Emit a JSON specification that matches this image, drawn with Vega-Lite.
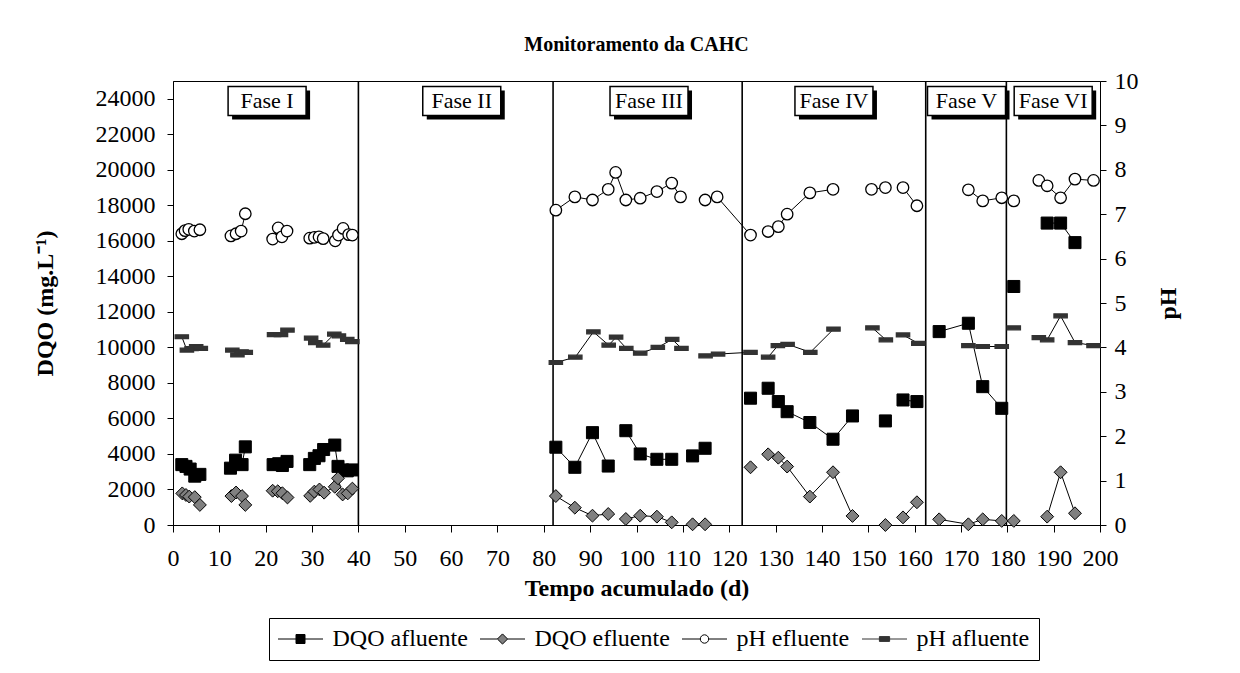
{
  "$schema": "https://vega.github.io/schema/vega-lite/v6.json",
  "width": 927,
  "height": 444,
  "autosize": {"type": "none"},
  "padding": {"left": 173, "top": 81, "right": 140, "bottom": 148},
  "background": "#ffffff",
  "title": {"text": "Monitoramento da CAHC", "font": "Liberation Serif", "fontSize": 20, "fontWeight": "bold", "color": "#000000", "anchor": "middle", "offset": 14},
  "config": {
    "view": {"stroke": "#000000", "strokeWidth": 1},
    "font": "Liberation Serif",
    "axis": {"labelFont": "Liberation Serif", "titleFont": "Liberation Serif", "labelColor": "#000000", "titleColor": "#000000", "domainColor": "#000000", "tickColor": "#000000", "grid": false, "labelFontSize": 24, "titleFontSize": 24, "titleFontWeight": "bold", "labelOverlap": false, "labelFlush": false, "domainWidth": 1, "tickWidth": 1},
    "legend": {"labelFont": "Liberation Serif", "labelFontSize": 24, "labelColor": "#000000"}
  },
  "datasets": {
    "limites": [{"dia": 40}, {"dia": 82}, {"dia": 122.8}, {"dia": 162.4}, {"dia": 179.8}],
    "fases": [
      {"dia": 20.3, "fase": "Fase I"}, {"dia": 62.3, "fase": "Fase II"}, {"dia": 102.7, "fase": "Fase III"},
      {"dia": 142.6, "fase": "Fase IV"}, {"dia": 171.2, "fase": "Fase V"}, {"dia": 189.9, "fase": "Fase VI"}
    ],
    "series": [{"serie": "DQO afluente"}, {"serie": "DQO efluente"}, {"serie": "pH efluente"}, {"serie": "pH afluente"}],
    "medidas": [
      {"dia": 1.9, "serie": "DQO afluente", "valor": 3400, "trecho": 1},
      {"dia": 2.8, "serie": "DQO afluente", "valor": 3300, "trecho": 1},
      {"dia": 3.7, "serie": "DQO afluente", "valor": 3150, "trecho": 1},
      {"dia": 4.7, "serie": "DQO afluente", "valor": 2750, "trecho": 1},
      {"dia": 5.8, "serie": "DQO afluente", "valor": 2850, "trecho": 1},
      {"dia": 12.4, "serie": "DQO afluente", "valor": 3200, "trecho": 2},
      {"dia": 13.5, "serie": "DQO afluente", "valor": 3650, "trecho": 2},
      {"dia": 14.9, "serie": "DQO afluente", "valor": 3400, "trecho": 2},
      {"dia": 15.6, "serie": "DQO afluente", "valor": 4400, "trecho": 2},
      {"dia": 21.6, "serie": "DQO afluente", "valor": 3400, "trecho": 3},
      {"dia": 22.8, "serie": "DQO afluente", "valor": 3450, "trecho": 3},
      {"dia": 23.6, "serie": "DQO afluente", "valor": 3350, "trecho": 3},
      {"dia": 24.6, "serie": "DQO afluente", "valor": 3580, "trecho": 3},
      {"dia": 29.5, "serie": "DQO afluente", "valor": 3400, "trecho": 4},
      {"dia": 30.5, "serie": "DQO afluente", "valor": 3750, "trecho": 4},
      {"dia": 31.5, "serie": "DQO afluente", "valor": 3900, "trecho": 4},
      {"dia": 32.5, "serie": "DQO afluente", "valor": 4250, "trecho": 4},
      {"dia": 34.9, "serie": "DQO afluente", "valor": 4500, "trecho": 4},
      {"dia": 35.6, "serie": "DQO afluente", "valor": 3300, "trecho": 4},
      {"dia": 36.6, "serie": "DQO afluente", "valor": 3100, "trecho": 4},
      {"dia": 37.6, "serie": "DQO afluente", "valor": 3050, "trecho": 4},
      {"dia": 38.7, "serie": "DQO afluente", "valor": 3100, "trecho": 4},
      {"dia": 82.6, "serie": "DQO afluente", "valor": 4380, "trecho": 5},
      {"dia": 86.7, "serie": "DQO afluente", "valor": 3250, "trecho": 5},
      {"dia": 90.5, "serie": "DQO afluente", "valor": 5200, "trecho": 5},
      {"dia": 93.9, "serie": "DQO afluente", "valor": 3320, "trecho": 5},
      {"dia": 97.7, "serie": "DQO afluente", "valor": 5310, "trecho": 6},
      {"dia": 100.8, "serie": "DQO afluente", "valor": 4000, "trecho": 6},
      {"dia": 104.4, "serie": "DQO afluente", "valor": 3700, "trecho": 6},
      {"dia": 107.6, "serie": "DQO afluente", "valor": 3700, "trecho": 6},
      {"dia": 112.1, "serie": "DQO afluente", "valor": 3890, "trecho": 7},
      {"dia": 114.8, "serie": "DQO afluente", "valor": 4320, "trecho": 7},
      {"dia": 124.6, "serie": "DQO afluente", "valor": 7140, "trecho": 8},
      {"dia": 128.4, "serie": "DQO afluente", "valor": 7700, "trecho": 9},
      {"dia": 130.6, "serie": "DQO afluente", "valor": 6950, "trecho": 9},
      {"dia": 132.5, "serie": "DQO afluente", "valor": 6380, "trecho": 9},
      {"dia": 137.4, "serie": "DQO afluente", "valor": 5770, "trecho": 9},
      {"dia": 142.4, "serie": "DQO afluente", "valor": 4830, "trecho": 9},
      {"dia": 146.6, "serie": "DQO afluente", "valor": 6140, "trecho": 9},
      {"dia": 153.7, "serie": "DQO afluente", "valor": 5860, "trecho": 10},
      {"dia": 157.5, "serie": "DQO afluente", "valor": 7040, "trecho": 11},
      {"dia": 160.5, "serie": "DQO afluente", "valor": 6950, "trecho": 11},
      {"dia": 165.3, "serie": "DQO afluente", "valor": 10890, "trecho": 12},
      {"dia": 171.6, "serie": "DQO afluente", "valor": 11360, "trecho": 12},
      {"dia": 174.7, "serie": "DQO afluente", "valor": 7790, "trecho": 12},
      {"dia": 178.8, "serie": "DQO afluente", "valor": 6570, "trecho": 12},
      {"dia": 181.4, "serie": "DQO afluente", "valor": 13430, "trecho": 13},
      {"dia": 188.6, "serie": "DQO afluente", "valor": 17000, "trecho": 14},
      {"dia": 191.5, "serie": "DQO afluente", "valor": 17000, "trecho": 14},
      {"dia": 194.6, "serie": "DQO afluente", "valor": 15900, "trecho": 14},

      {"dia": 2.0, "serie": "DQO efluente", "valor": 1780, "trecho": 1},
      {"dia": 2.8, "serie": "DQO efluente", "valor": 1690, "trecho": 1},
      {"dia": 3.5, "serie": "DQO efluente", "valor": 1600, "trecho": 1},
      {"dia": 4.7, "serie": "DQO efluente", "valor": 1570, "trecho": 1},
      {"dia": 5.8, "serie": "DQO efluente", "valor": 1130, "trecho": 1},
      {"dia": 12.6, "serie": "DQO efluente", "valor": 1630, "trecho": 2},
      {"dia": 13.6, "serie": "DQO efluente", "valor": 1830, "trecho": 2},
      {"dia": 14.9, "serie": "DQO efluente", "valor": 1630, "trecho": 2},
      {"dia": 15.6, "serie": "DQO efluente", "valor": 1130, "trecho": 2},
      {"dia": 21.5, "serie": "DQO efluente", "valor": 1930, "trecho": 3},
      {"dia": 22.6, "serie": "DQO efluente", "valor": 1900, "trecho": 3},
      {"dia": 23.6, "serie": "DQO efluente", "valor": 1790, "trecho": 3},
      {"dia": 24.7, "serie": "DQO efluente", "valor": 1550, "trecho": 3},
      {"dia": 29.6, "serie": "DQO efluente", "valor": 1640, "trecho": 4},
      {"dia": 30.5, "serie": "DQO efluente", "valor": 1880, "trecho": 4},
      {"dia": 31.6, "serie": "DQO efluente", "valor": 2000, "trecho": 4},
      {"dia": 32.6, "serie": "DQO efluente", "valor": 1820, "trecho": 4},
      {"dia": 34.9, "serie": "DQO efluente", "valor": 2150, "trecho": 4},
      {"dia": 35.6, "serie": "DQO efluente", "valor": 2630, "trecho": 4},
      {"dia": 36.6, "serie": "DQO efluente", "valor": 1720, "trecho": 4},
      {"dia": 37.7, "serie": "DQO efluente", "valor": 1780, "trecho": 4},
      {"dia": 38.7, "serie": "DQO efluente", "valor": 2050, "trecho": 4},
      {"dia": 82.6, "serie": "DQO efluente", "valor": 1630, "trecho": 5},
      {"dia": 86.7, "serie": "DQO efluente", "valor": 975, "trecho": 5},
      {"dia": 90.5, "serie": "DQO efluente", "valor": 525, "trecho": 5},
      {"dia": 93.9, "serie": "DQO efluente", "valor": 620, "trecho": 5},
      {"dia": 97.7, "serie": "DQO efluente", "valor": 340, "trecho": 6},
      {"dia": 100.8, "serie": "DQO efluente", "valor": 525, "trecho": 6},
      {"dia": 104.4, "serie": "DQO efluente", "valor": 470, "trecho": 6},
      {"dia": 107.6, "serie": "DQO efluente", "valor": 150, "trecho": 6},
      {"dia": 112.1, "serie": "DQO efluente", "valor": 40, "trecho": 7},
      {"dia": 114.8, "serie": "DQO efluente", "valor": 40, "trecho": 7},
      {"dia": 124.6, "serie": "DQO efluente", "valor": 3250, "trecho": 8},
      {"dia": 128.4, "serie": "DQO efluente", "valor": 3980, "trecho": 9},
      {"dia": 130.6, "serie": "DQO efluente", "valor": 3790, "trecho": 9},
      {"dia": 132.5, "serie": "DQO efluente", "valor": 3290, "trecho": 9},
      {"dia": 137.4, "serie": "DQO efluente", "valor": 1600, "trecho": 9},
      {"dia": 142.4, "serie": "DQO efluente", "valor": 2970, "trecho": 9},
      {"dia": 146.6, "serie": "DQO efluente", "valor": 510, "trecho": 9},
      {"dia": 153.7, "serie": "DQO efluente", "valor": 0, "trecho": 10},
      {"dia": 157.5, "serie": "DQO efluente", "valor": 430, "trecho": 11},
      {"dia": 160.5, "serie": "DQO efluente", "valor": 1280, "trecho": 11},
      {"dia": 165.3, "serie": "DQO efluente", "valor": 320, "trecho": 12},
      {"dia": 171.6, "serie": "DQO efluente", "valor": 40, "trecho": 12},
      {"dia": 174.7, "serie": "DQO efluente", "valor": 320, "trecho": 12},
      {"dia": 178.8, "serie": "DQO efluente", "valor": 230, "trecho": 12},
      {"dia": 181.4, "serie": "DQO efluente", "valor": 230, "trecho": 12},
      {"dia": 188.6, "serie": "DQO efluente", "valor": 470, "trecho": 13},
      {"dia": 191.5, "serie": "DQO efluente", "valor": 2970, "trecho": 13},
      {"dia": 194.6, "serie": "DQO efluente", "valor": 660, "trecho": 13},

      {"dia": 1.9, "serie": "pH efluente", "valor": 6.56, "trecho": 1},
      {"dia": 2.6, "serie": "pH efluente", "valor": 6.63, "trecho": 1},
      {"dia": 3.4, "serie": "pH efluente", "valor": 6.66, "trecho": 1},
      {"dia": 4.6, "serie": "pH efluente", "valor": 6.62, "trecho": 1},
      {"dia": 5.8, "serie": "pH efluente", "valor": 6.65, "trecho": 1},
      {"dia": 12.5, "serie": "pH efluente", "valor": 6.51, "trecho": 2},
      {"dia": 13.6, "serie": "pH efluente", "valor": 6.56, "trecho": 2},
      {"dia": 14.7, "serie": "pH efluente", "valor": 6.62, "trecho": 2},
      {"dia": 15.6, "serie": "pH efluente", "valor": 7.01, "trecho": 2},
      {"dia": 21.5, "serie": "pH efluente", "valor": 6.44, "trecho": 3},
      {"dia": 22.7, "serie": "pH efluente", "valor": 6.69, "trecho": 3},
      {"dia": 23.5, "serie": "pH efluente", "valor": 6.49, "trecho": 3},
      {"dia": 24.6, "serie": "pH efluente", "valor": 6.62, "trecho": 3},
      {"dia": 29.5, "serie": "pH efluente", "valor": 6.46, "trecho": 4},
      {"dia": 30.5, "serie": "pH efluente", "valor": 6.48, "trecho": 4},
      {"dia": 31.5, "serie": "pH efluente", "valor": 6.49, "trecho": 4},
      {"dia": 32.4, "serie": "pH efluente", "valor": 6.45, "trecho": 4},
      {"dia": 35.0, "serie": "pH efluente", "valor": 6.40, "trecho": 4},
      {"dia": 35.7, "serie": "pH efluente", "valor": 6.53, "trecho": 4},
      {"dia": 36.7, "serie": "pH efluente", "valor": 6.68, "trecho": 4},
      {"dia": 37.9, "serie": "pH efluente", "valor": 6.54, "trecho": 4},
      {"dia": 38.7, "serie": "pH efluente", "valor": 6.53, "trecho": 4},
      {"dia": 82.6, "serie": "pH efluente", "valor": 7.09, "trecho": 5},
      {"dia": 86.7, "serie": "pH efluente", "valor": 7.39, "trecho": 5},
      {"dia": 90.5, "serie": "pH efluente", "valor": 7.32, "trecho": 5},
      {"dia": 93.9, "serie": "pH efluente", "valor": 7.56, "trecho": 5},
      {"dia": 95.5, "serie": "pH efluente", "valor": 7.94, "trecho": 5},
      {"dia": 97.7, "serie": "pH efluente", "valor": 7.32, "trecho": 5},
      {"dia": 100.8, "serie": "pH efluente", "valor": 7.36, "trecho": 5},
      {"dia": 104.4, "serie": "pH efluente", "valor": 7.51, "trecho": 5},
      {"dia": 107.6, "serie": "pH efluente", "valor": 7.70, "trecho": 5},
      {"dia": 109.5, "serie": "pH efluente", "valor": 7.39, "trecho": 5},
      {"dia": 114.8, "serie": "pH efluente", "valor": 7.32, "trecho": 6},
      {"dia": 117.4, "serie": "pH efluente", "valor": 7.39, "trecho": 6},
      {"dia": 124.6, "serie": "pH efluente", "valor": 6.53, "trecho": 6},
      {"dia": 128.4, "serie": "pH efluente", "valor": 6.61, "trecho": 7},
      {"dia": 130.6, "serie": "pH efluente", "valor": 6.72, "trecho": 7},
      {"dia": 132.5, "serie": "pH efluente", "valor": 7.00, "trecho": 7},
      {"dia": 137.4, "serie": "pH efluente", "valor": 7.48, "trecho": 7},
      {"dia": 142.4, "serie": "pH efluente", "valor": 7.56, "trecho": 7},
      {"dia": 150.7, "serie": "pH efluente", "valor": 7.56, "trecho": 8},
      {"dia": 153.7, "serie": "pH efluente", "valor": 7.60, "trecho": 8},
      {"dia": 157.5, "serie": "pH efluente", "valor": 7.60, "trecho": 9},
      {"dia": 160.5, "serie": "pH efluente", "valor": 7.19, "trecho": 9},
      {"dia": 171.6, "serie": "pH efluente", "valor": 7.55, "trecho": 10},
      {"dia": 174.7, "serie": "pH efluente", "valor": 7.30, "trecho": 10},
      {"dia": 178.8, "serie": "pH efluente", "valor": 7.37, "trecho": 10},
      {"dia": 181.4, "serie": "pH efluente", "valor": 7.30, "trecho": 10},
      {"dia": 186.8, "serie": "pH efluente", "valor": 7.76, "trecho": 11},
      {"dia": 188.6, "serie": "pH efluente", "valor": 7.64, "trecho": 11},
      {"dia": 191.5, "serie": "pH efluente", "valor": 7.37, "trecho": 11},
      {"dia": 194.6, "serie": "pH efluente", "valor": 7.79, "trecho": 11},
      {"dia": 198.6, "serie": "pH efluente", "valor": 7.76, "trecho": 11},

      {"dia": 1.9, "serie": "pH afluente", "valor": 4.24, "trecho": 1},
      {"dia": 3.0, "serie": "pH afluente", "valor": 3.94, "trecho": 1},
      {"dia": 4.0, "serie": "pH afluente", "valor": 3.97, "trecho": 1},
      {"dia": 5.0, "serie": "pH afluente", "valor": 4.02, "trecho": 1},
      {"dia": 6.0, "serie": "pH afluente", "valor": 3.98, "trecho": 1},
      {"dia": 12.8, "serie": "pH afluente", "valor": 3.94, "trecho": 2},
      {"dia": 13.9, "serie": "pH afluente", "valor": 3.83, "trecho": 2},
      {"dia": 14.8, "serie": "pH afluente", "valor": 3.90, "trecho": 2},
      {"dia": 15.7, "serie": "pH afluente", "valor": 3.89, "trecho": 2},
      {"dia": 21.8, "serie": "pH afluente", "valor": 4.29, "trecho": 3},
      {"dia": 23.3, "serie": "pH afluente", "valor": 4.29, "trecho": 3},
      {"dia": 24.7, "serie": "pH afluente", "valor": 4.39, "trecho": 3},
      {"dia": 29.8, "serie": "pH afluente", "valor": 4.21, "trecho": 4},
      {"dia": 30.7, "serie": "pH afluente", "valor": 4.11, "trecho": 4},
      {"dia": 32.4, "serie": "pH afluente", "valor": 4.05, "trecho": 4},
      {"dia": 34.8, "serie": "pH afluente", "valor": 4.30, "trecho": 4},
      {"dia": 35.8, "serie": "pH afluente", "valor": 4.26, "trecho": 4},
      {"dia": 37.6, "serie": "pH afluente", "valor": 4.18, "trecho": 4},
      {"dia": 38.7, "serie": "pH afluente", "valor": 4.13, "trecho": 4},
      {"dia": 82.6, "serie": "pH afluente", "valor": 3.66, "trecho": 5},
      {"dia": 86.8, "serie": "pH afluente", "valor": 3.78, "trecho": 5},
      {"dia": 90.7, "serie": "pH afluente", "valor": 4.35, "trecho": 5},
      {"dia": 94.0, "serie": "pH afluente", "valor": 4.05, "trecho": 5},
      {"dia": 95.6, "serie": "pH afluente", "valor": 4.23, "trecho": 5},
      {"dia": 97.8, "serie": "pH afluente", "valor": 3.98, "trecho": 5},
      {"dia": 100.8, "serie": "pH afluente", "valor": 3.87, "trecho": 5},
      {"dia": 104.6, "serie": "pH afluente", "valor": 4.00, "trecho": 5},
      {"dia": 107.7, "serie": "pH afluente", "valor": 4.18, "trecho": 5},
      {"dia": 109.7, "serie": "pH afluente", "valor": 3.98, "trecho": 5},
      {"dia": 114.9, "serie": "pH afluente", "valor": 3.81, "trecho": 6},
      {"dia": 117.6, "serie": "pH afluente", "valor": 3.85, "trecho": 6},
      {"dia": 124.6, "serie": "pH afluente", "valor": 3.89, "trecho": 6},
      {"dia": 128.4, "serie": "pH afluente", "valor": 3.78, "trecho": 7},
      {"dia": 130.5, "serie": "pH afluente", "valor": 4.04, "trecho": 7},
      {"dia": 132.6, "serie": "pH afluente", "valor": 4.07, "trecho": 7},
      {"dia": 137.5, "serie": "pH afluente", "valor": 3.89, "trecho": 7},
      {"dia": 142.5, "serie": "pH afluente", "valor": 4.41, "trecho": 7},
      {"dia": 150.9, "serie": "pH afluente", "valor": 4.44, "trecho": 8},
      {"dia": 153.8, "serie": "pH afluente", "valor": 4.17, "trecho": 8},
      {"dia": 157.5, "serie": "pH afluente", "valor": 4.28, "trecho": 9},
      {"dia": 160.8, "serie": "pH afluente", "valor": 4.09, "trecho": 9},
      {"dia": 171.6, "serie": "pH afluente", "valor": 4.04, "trecho": 10},
      {"dia": 174.7, "serie": "pH afluente", "valor": 4.02, "trecho": 10},
      {"dia": 178.8, "serie": "pH afluente", "valor": 4.02, "trecho": 10},
      {"dia": 181.4, "serie": "pH afluente", "valor": 4.44, "trecho": 11},
      {"dia": 186.8, "serie": "pH afluente", "valor": 4.22, "trecho": 12},
      {"dia": 188.6, "serie": "pH afluente", "valor": 4.17, "trecho": 12},
      {"dia": 191.5, "serie": "pH afluente", "valor": 4.71, "trecho": 12},
      {"dia": 194.6, "serie": "pH afluente", "valor": 4.11, "trecho": 12},
      {"dia": 198.6, "serie": "pH afluente", "valor": 4.04, "trecho": 12}
    ]
  },
  "layer": [
    {
      "layer": [
        {
          "data": {"name": "limites"},
          "mark": {"type": "rule", "color": "#000000", "strokeWidth": 1.6},
          "encoding": {
            "x": {"field": "dia", "type": "quantitative", "scale": {"domain": [0, 200], "nice": false}, "axis": {"values": [0,10,20,30,40,50,60,70,80,90,100,110,120,130,140,150,160,170,180,190,200], "title": "Tempo acumulado (d)", "tickSize": 7, "labelPadding": 14, "titlePadding": 6}}
          }
        },
        {
          "data": {"name": "fases"},
          "mark": {"type": "point", "shape": "M-1,-0.372H1V0.372H-1Z", "size": 6084, "filled": true, "fill": "#000000", "strokeWidth": 0, "opacity": 1, "xOffset": 4, "yOffset": 4},
          "encoding": {
            "x": {"field": "dia", "type": "quantitative", "scale": {"domain": [0, 200], "nice": false}, "axis": {"values": [0,10,20,30,40,50,60,70,80,90,100,110,120,130,140,150,160,170,180,190,200], "title": "Tempo acumulado (d)", "tickSize": 7, "labelPadding": 14, "titlePadding": 6}},
            "y": {"datum": 23870, "type": "quantitative", "scale": {"domain": [0, 25000], "nice": false}, "axis": {"orient": "left", "values": [0,2000,4000,6000,8000,10000,12000,14000,16000,18000,20000,22000,24000], "format": "d", "title": "DQO (mg.L⁻¹)", "tickSize": 6, "labelPadding": 12, "titlePadding": 38}}
          }
        },
        {
          "data": {"name": "fases"},
          "mark": {"type": "point", "shape": "M-1,-0.372H1V0.372H-1Z", "size": 6084, "filled": true, "fill": "#ffffff", "stroke": "#000000", "strokeWidth": 1.5, "opacity": 1},
          "encoding": {
            "x": {"field": "dia", "type": "quantitative", "scale": {"domain": [0, 200], "nice": false}, "axis": {"values": [0,10,20,30,40,50,60,70,80,90,100,110,120,130,140,150,160,170,180,190,200], "title": "Tempo acumulado (d)", "tickSize": 7, "labelPadding": 14, "titlePadding": 6}},
            "y": {"datum": 23870, "type": "quantitative", "scale": {"domain": [0, 25000], "nice": false}, "axis": {"orient": "left", "values": [0,2000,4000,6000,8000,10000,12000,14000,16000,18000,20000,22000,24000], "format": "d", "title": "DQO (mg.L⁻¹)", "tickSize": 6, "labelPadding": 12, "titlePadding": 38}}
          }
        },
        {
          "data": {"name": "fases"},
          "mark": {"type": "text", "font": "Liberation Serif", "fontSize": 22, "color": "#000000", "align": "center", "baseline": "middle"},
          "encoding": {
            "x": {"field": "dia", "type": "quantitative", "scale": {"domain": [0, 200], "nice": false}, "axis": {"values": [0,10,20,30,40,50,60,70,80,90,100,110,120,130,140,150,160,170,180,190,200], "title": "Tempo acumulado (d)", "tickSize": 7, "labelPadding": 14, "titlePadding": 6}},
            "y": {"datum": 23870, "type": "quantitative", "scale": {"domain": [0, 25000], "nice": false}, "axis": {"orient": "left", "values": [0,2000,4000,6000,8000,10000,12000,14000,16000,18000,20000,22000,24000], "format": "d", "title": "DQO (mg.L⁻¹)", "tickSize": 6, "labelPadding": 12, "titlePadding": 38}},
            "text": {"field": "fase", "type": "nominal"}
          }
        },
        {
          "data": {"name": "medidas"},
          "transform": [{"filter": {"field": "serie", "oneOf": ["DQO afluente", "DQO efluente"]}}],
          "mark": {"type": "line", "color": "#000000", "strokeWidth": 1},
          "encoding": {
            "x": {"field": "dia", "type": "quantitative", "scale": {"domain": [0, 200], "nice": false}, "axis": {"values": [0,10,20,30,40,50,60,70,80,90,100,110,120,130,140,150,160,170,180,190,200], "title": "Tempo acumulado (d)", "tickSize": 7, "labelPadding": 14, "titlePadding": 6}},
            "y": {"field": "valor", "type": "quantitative", "scale": {"domain": [0, 25000], "nice": false}, "axis": {"orient": "left", "values": [0,2000,4000,6000,8000,10000,12000,14000,16000,18000,20000,22000,24000], "format": "d", "title": "DQO (mg.L⁻¹)", "tickSize": 6, "labelPadding": 12, "titlePadding": 38}},
            "detail": [{"field": "serie", "type": "nominal"}, {"field": "trecho", "type": "nominal"}]
          }
        },
        {
          "data": {"name": "medidas"},
          "transform": [{"filter": {"field": "serie", "oneOf": ["DQO afluente", "DQO efluente"]}}],
          "mark": {"type": "point", "filled": true, "opacity": 1, "size": 196, "strokeWidth": 1},
          "encoding": {
            "x": {"field": "dia", "type": "quantitative", "scale": {"domain": [0, 200], "nice": false}, "axis": {"values": [0,10,20,30,40,50,60,70,80,90,100,110,120,130,140,150,160,170,180,190,200], "title": "Tempo acumulado (d)", "tickSize": 7, "labelPadding": 14, "titlePadding": 6}},
            "y": {"field": "valor", "type": "quantitative", "scale": {"domain": [0, 25000], "nice": false}, "axis": {"orient": "left", "values": [0,2000,4000,6000,8000,10000,12000,14000,16000,18000,20000,22000,24000], "format": "d", "title": "DQO (mg.L⁻¹)", "tickSize": 6, "labelPadding": 12, "titlePadding": 38}},
            "shape": {"field": "serie", "type": "nominal", "scale": {"domain": ["DQO afluente", "DQO efluente"], "range": ["M-0.86,-0.86H0.86V0.86H-0.86Z", "M0,-0.92L0.92,0L0,0.92L-0.92,0Z"]}, "legend": null},
            "fill": {"field": "serie", "type": "nominal", "scale": {"domain": ["DQO afluente", "DQO efluente"], "range": ["#000000", "#808080"]}, "legend": null},
            "stroke": {"field": "serie", "type": "nominal", "scale": {"domain": ["DQO afluente", "DQO efluente"], "range": ["#000000", "#000000"]}, "legend": null}
          }
        }
      ]
    },
    {
      "layer": [
        {
          "data": {"name": "medidas"},
          "transform": [{"filter": {"field": "serie", "oneOf": ["pH efluente", "pH afluente"]}}],
          "mark": {"type": "line", "color": "#000000", "strokeWidth": 1},
          "encoding": {
            "x": {"field": "dia", "type": "quantitative", "scale": {"domain": [0, 200], "nice": false}, "axis": {"values": [0,10,20,30,40,50,60,70,80,90,100,110,120,130,140,150,160,170,180,190,200], "title": "Tempo acumulado (d)", "tickSize": 7, "labelPadding": 14, "titlePadding": 6}},
            "y": {"field": "valor", "type": "quantitative", "scale": {"domain": [0, 10], "nice": false}, "axis": {"orient": "right", "values": [0,1,2,3,4,5,6,7,8,9,10], "title": "pH", "titleAngle": 270, "tickSize": 6, "labelPadding": 8, "titlePadding": 42}},
            "detail": [{"field": "serie", "type": "nominal"}, {"field": "trecho", "type": "nominal"}]
          }
        },
        {
          "data": {"name": "medidas"},
          "transform": [{"filter": {"field": "serie", "oneOf": ["pH efluente", "pH afluente"]}}],
          "mark": {"type": "point", "filled": true, "opacity": 1, "size": 196, "strokeWidth": 1.3},
          "encoding": {
            "x": {"field": "dia", "type": "quantitative", "scale": {"domain": [0, 200], "nice": false}, "axis": {"values": [0,10,20,30,40,50,60,70,80,90,100,110,120,130,140,150,160,170,180,190,200], "title": "Tempo acumulado (d)", "tickSize": 7, "labelPadding": 14, "titlePadding": 6}},
            "y": {"field": "valor", "type": "quantitative", "scale": {"domain": [0, 10], "nice": false}, "axis": {"orient": "right", "values": [0,1,2,3,4,5,6,7,8,9,10], "title": "pH", "titleAngle": 270, "tickSize": 6, "labelPadding": 8, "titlePadding": 42}},
            "shape": {"field": "serie", "type": "nominal", "scale": {"domain": ["pH efluente", "pH afluente"], "range": ["M-0.82,0A0.82,0.82,0,1,0,0.82,0A0.82,0.82,0,1,0,-0.82,0Z", "M-0.95,-0.28H0.95V0.28H-0.95Z"]}, "legend": null},
            "fill": {"field": "serie", "type": "nominal", "scale": {"domain": ["pH efluente", "pH afluente"], "range": ["#ffffff", "#333333"]}, "legend": null},
            "stroke": {"field": "serie", "type": "nominal", "scale": {"domain": ["pH efluente", "pH afluente"], "range": ["#000000", "#333333"]}, "legend": null}
          }
        }
      ]
    },
    {
      "data": {"name": "series"},
      "mark": {"type": "point", "filled": true, "opacity": 0, "size": 144, "strokeWidth": 1},
      "encoding": {
        "shape": {"field": "serie", "type": "nominal", "scale": {"domain": ["DQO afluente", "DQO efluente", "pH efluente", "pH afluente"], "range": ["M-3.75,0H3.75M-0.75,-0.75H0.75V0.75H-0.75Z", "M-3.75,0H-0.85M0.85,0H3.75M0,-0.85L0.85,0L0,0.85L-0.85,0Z", "M-3.75,0H-0.7M0.7,0H3.75M-0.7,0A0.7,0.7,0,1,0,0.7,0A0.7,0.7,0,1,0,-0.7,0Z", "M-3.75,0H3.75M-0.85,-0.4H0.85V0.4H-0.85Z"]}, "legend": {"title": null, "orient": "none", "legendX": 96, "legendY": 537, "direction": "horizontal", "symbolSize": 144, "symbolOffset": 10.5, "labelOffset": 20, "padding": 9, "strokeColor": "#000000", "fillColor": "#ffffff", "columnPadding": 10, "labelFont": "Liberation Serif", "labelFontSize": 24, "labelColor": "#000000", "labelLimit": 400, "symbolStrokeWidth": 1, "symbolOpacity": 1}},
        "fill": {"field": "serie", "type": "nominal", "scale": {"domain": ["DQO afluente", "DQO efluente", "pH efluente", "pH afluente"], "range": ["#000000", "#808080", "#ffffff", "#333333"]}, "legend": {"title": null, "orient": "none", "legendX": 96, "legendY": 537, "direction": "horizontal", "symbolSize": 144, "symbolOffset": 10.5, "labelOffset": 20, "padding": 9, "strokeColor": "#000000", "fillColor": "#ffffff", "columnPadding": 10, "labelFont": "Liberation Serif", "labelFontSize": 24, "labelColor": "#000000", "labelLimit": 400, "symbolStrokeWidth": 1, "symbolOpacity": 1}},
        "stroke": {"field": "serie", "type": "nominal", "scale": {"domain": ["DQO afluente", "DQO efluente", "pH efluente", "pH afluente"], "range": ["#000000", "#000000", "#000000", "#333333"]}, "legend": {"title": null, "orient": "none", "legendX": 96, "legendY": 537, "direction": "horizontal", "symbolSize": 144, "symbolOffset": 10.5, "labelOffset": 20, "padding": 9, "strokeColor": "#000000", "fillColor": "#ffffff", "columnPadding": 10, "labelFont": "Liberation Serif", "labelFontSize": 24, "labelColor": "#000000", "labelLimit": 400, "symbolStrokeWidth": 1, "symbolOpacity": 1}}
      }
    }
  ],
  "resolve": {"scale": {"y": "independent", "shape": "independent", "fill": "independent", "stroke": "independent"}}
}
